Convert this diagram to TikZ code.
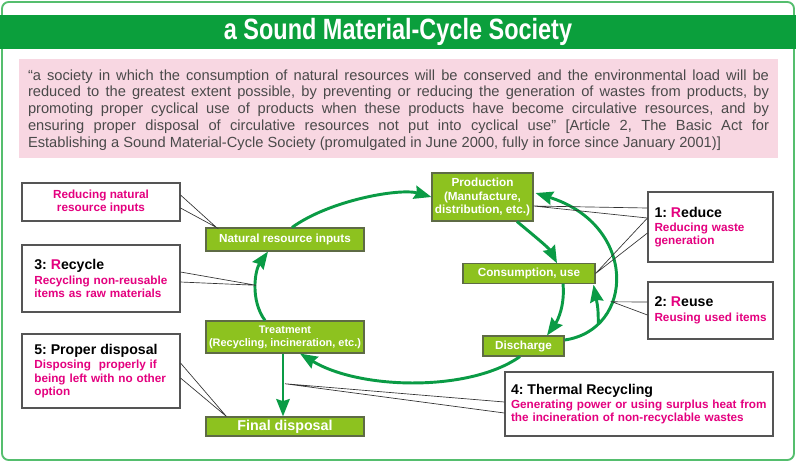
\documentclass[tikz,border=0pt]{standalone}
\usepackage{fontspec}
\setmainfont{Liberation Sans}
\newfontfamily\titlefont[FakeStretch=0.8]{Liberation Sans}
\frenchspacing
\usetikzlibrary{arrows.meta, calc}
\definecolor{cframe}{HTML}{55BE6E}
\definecolor{cbar}{HTML}{0B9F3C}
\definecolor{carrow}{HTML}{0A9B45}
\definecolor{cbox}{HTML}{8DC21F}
\definecolor{cboxline}{HTML}{5E6B45}
\definecolor{cmag}{HTML}{E4007F}
\definecolor{cpink}{HTML}{F8D7E2}
\definecolor{cquote}{HTML}{4A4A4A}
\definecolor{cnote}{HTML}{555555}
\tikzset{
  every picture/.style={font=\bfseries},
  proc/.style={draw=cboxline, fill=cbox, text=white, line width=0.8pt, align=center, inner sep=0pt,
    font=\bfseries\fontsize{8.8}{9.8}\selectfont},
  note/.style={draw=cnote, fill=white, text=cmag, line width=0.8pt, align=left, inner sep=0pt,
    font=\bfseries\fontsize{8.8}{9.9}\selectfont},
  flow/.style={-{Stealth[length=13pt, width=10pt, inset=1.5pt]}, draw=carrow, line width=2.2pt},
  lead/.style={draw=black!80, line width=0.5pt},
}
\newcommand{\headtext}[1]{\textcolor{black}{\fontsize{10.6}{13}\selectfont #1}}

\begin{document}
\begin{tikzpicture}[x=0.75pt, y=-0.75pt]
  \useasboundingbox (0,0) rectangle (796,462);
  \draw[cframe, line width=1.4pt, rounded corners=5pt] (2,2) rectangle (794,460);
  \fill[cbar] (0,15) rectangle (796,49);
  \node[text=white, font=\titlefont\bfseries\fontsize{22}{24}\selectfont] (title) at (398,32) {a Sound Material-Cycle Society};
  \fill[cpink] (19,59) rectangle (778,158);
  \node[text=cquote, align=justify, text width=555.75pt, inner sep=0pt, font=\mdseries\fontsize{11}{12.6}\selectfont]
    (def) at (398.5,110) {“a society in which the consumption of natural resources will be conserved and the environmental load will be\linebreak
    reduced to the greatest extent possible, by preventing or reducing the generation of wastes from products, by\linebreak
    promoting proper cyclical use of products when these products have become circulative resources, and by\linebreak
    ensuring proper disposal of circulative resources not put into cyclical use” [Article 2, The Basic Act for\linebreak
    Establishing a Sound Material-Cycle Society (promulgated in June 2000, fully in force since January 2001)]};

  \node[proc, minimum width=75.75pt, minimum height=36pt] (prod) at (482.5,197) {Production\\(Manufacture,\\distribution, etc.)};
  \node[proc, minimum width=118.5pt, minimum height=17.25pt] (nri) at (285,239.5) {Natural resource inputs};
  \node[proc, minimum width=99pt, minimum height=14.5pt] (cons) at (529,273.5) {Consumption, use};
  \node[proc, minimum width=60.75pt, minimum height=15pt] (disch) at (523.5,346) {Discharge};
  \node[proc, minimum width=118.5pt, minimum height=24pt, font=\bfseries\fontsize{8.2}{9.6}\selectfont] (treat) at (285,337) {Treatment\\(Recycling, incineration, etc.)};
  \node[proc, minimum width=118.5pt, minimum height=14.25pt, font=\bfseries\fontsize{10.7}{12}\selectfont] (final) at (285,426.5) {Final disposal};

  \node[note, minimum width=118.5pt, minimum height=28.5pt, align=center] (nrinote) at (101,202) {Reducing natural\\resource inputs};
  \node[note, minimum width=118.5pt, minimum height=50.25pt, text width=100pt] (recycle) at (101,278.5)
    {\headtext{3: \textcolor{cmag}{R}ecycle}\\[1pt]Recycling non-reusable\\items as raw materials};
  \node[note, minimum width=118.5pt, minimum height=55.5pt, text width=100pt] (disposal) at (101,371)
    {\headtext{5: Proper disposal}\\[1pt]Disposing\ \ properly if\\being left with no other\\option};
  \node[note, minimum width=93.75pt, minimum height=52.5pt, text width=84pt] (reduce) at (710.5,227)
    {\headtext{1: \textcolor{cmag}{R}educe}\\[1pt]Reducing waste\\generation};
  \node[note, minimum width=93.75pt, minimum height=42.75pt, text width=84pt] (reuse) at (710.5,310.5)
    {\headtext{2: \textcolor{cmag}{R}euse}\\[1pt]Reusing~used~items};
  \node[note, minimum width=201pt, minimum height=48pt, text width=192pt] (thermal) at (639,404)
    {\headtext{4: Thermal Recycling}\\[1pt]Generating power or using surplus heat from\\the incineration of non-recyclable wastes};

  \draw[flow] ($(nri.north)+(7,0)$) .. controls (330,200) and (400,188) .. (prod.west);
  \draw[flow] ($(prod.south)+(34.5,0)$) .. controls (532,234) and (549,248) .. ($(cons.north)+(28,0)$);
  \draw[flow] ($(cons.south)+(34,0)$) .. controls (565,305) and (558,320) .. ($(disch.north)+(23.5,0)$);
  \draw[flow] ($(disch.south)+(-3.5,0)$) .. controls (470,392) and (360,390) .. ($(treat.south)+(15,0)$);
  \draw[flow] ($(treat.north)+(-20,0)$) .. controls (250,300) and (255,270) .. coordinate[pos=0.5] (r3) ($(nri.south)+(-17,0)$);
  \draw[flow] ($(treat.south)+(-2,0)$) -- coordinate[pos=0.48] (r4) ($(final.north)+(-2,0)$);
  \draw[flow] ($(disch.east)+(0,-6)$) .. controls (635,330) and (638,225) .. coordinate[pos=0.2] (r2a) coordinate[pos=0.35] (r2) ($(prod.east)+(2,-4)$);
  \draw[flow] (r2a) .. controls (598,308) .. ($(cons.south east)+(-2,1)$);

  \draw[lead] ($(nrinote.east)+(0,-7)$) -- ($(nri.north west)+(11,0)$) -- ($(nrinote.east)+(0,6)$);
  \draw[lead] ($(recycle.east)+(0,-6.5)$) -- (r3) -- ($(recycle.east)+(0,3.5)$);
  \draw[lead] ($(reduce.west)+(0,-19)$) -- ($(prod.east)+(0,9)$) -- ($(reduce.west)+(0,-9)$);
  \draw[lead] ($(reduce.west)+(0,-9)$) -- (cons.east) -- ($(reduce.west)+(0,6)$);
  \draw[lead] ($(reuse.west)+(0,-8.5)$) -- (r2) -- ($(reuse.west)+(0,4.5)$);
  \draw[lead] ($(disposal.east)+(0,-8)$) -- ($(final.north west)+(21,0)$) -- ($(disposal.east)+(0,7)$);
  \draw[lead] ($(thermal.west)+(0,-2)$) -- ($(r4)+(2,0)$) -- ($(thermal.west)+(0,9)$);
\end{tikzpicture}
\end{document}
